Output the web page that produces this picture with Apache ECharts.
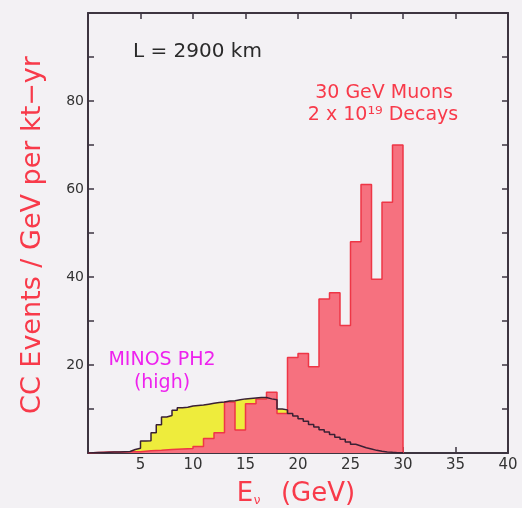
<!DOCTYPE html>
<html><head><meta charset="utf-8">
<script src="https://cdn.jsdelivr.net/npm/echarts@6/dist/echarts.min.js"></script>
<style>html,body{margin:0;padding:0;background:#f3f1f4;}#c{width:522px;height:508px;}</style>
</head><body><div id="c"></div>
<script>
// ---- data ----
const muonBinStart = 0;
const muonBinWidth = 1; // GeV
const muonValues = [0.1, 0.2, 0.2, 0.3, 0.3, 0.5, 0.6, 0.8, 0.9, 1.0,
                    1.5, 3.3, 4.6, 11.6, 5.2, 11.2, 12.3, 13.8, 9.0, 21.7,
                    22.6, 19.6, 35.0, 36.4, 29.0, 48.0, 61.0, 39.5, 57.0, 70.0];
const minosBinStart = 0;
const minosBinWidth = 0.5; // GeV
const minosValues = [0.05, 0.1, 0.1, 0.15, 0.2, 0.2, 0.3, 0.35, 0.8, 1.1,
                     2.7, 2.8, 4.6, 6.4, 8.2, 8.5, 9.7, 10.3, 10.4, 10.7,
                     10.8, 10.9, 11.1, 11.3, 11.5, 11.6, 11.8, 11.9, 12.1, 12.3,
                     12.4, 12.5, 12.6, 12.6, 12.3, 12.1, 10.0, 9.8, 9.0, 8.4,
                     7.8, 7.2, 6.5, 5.9, 5.3, 4.8, 4.2, 3.6, 3.1, 2.5,
                     2.0, 1.6, 1.2, 0.9, 0.6, 0.4, 0.25, 0.15, 0.08, 0.03];
const xTickLabels = [5, 10, 15, 20, 25, 30, 35, 40];
const yTickLabels = [20, 40, 60, 80];

function histPoints(start, width, vals) {
  const pts = [[start, 0]];
  vals.forEach((v, i) => pts.push([start + i * width, v]));
  pts.push([start + vals.length * width, 0]);
  return pts;
}

const FONT = '"DejaVu Sans", sans-serif';
const frameColor = '#3d3540';
const redText = '#f83a4a';
const magenta = '#ee22ee';

function axisCommon(extra) {
  return Object.assign({
    type: 'value',
    axisLine: { show: true, onZero: false, lineStyle: { color: frameColor, width: 2 } },
    axisTick: { show: true, inside: true, length: 6, lineStyle: { color: frameColor, width: 1.5 } },
    splitLine: { show: false }
  }, extra);
}

const chart = echarts.init(document.getElementById('c'), null, { renderer: 'canvas' });
chart.setOption({
  backgroundColor: '#f3f1f4',
  animation: false,
  grid: { left: 88, right: 14, top: 13, bottom: 55, containLabel: false },
  xAxis: [
    axisCommon({ min: 0, max: 40, interval: 5, position: 'bottom',
      axisLabel: { color: '#333', fontSize: 15, fontFamily: FONT, margin: 5,
        formatter: v => xTickLabels.includes(v) ? String(v) : '' } }),
    axisCommon({ min: 0, max: 40, interval: 5, position: 'top', axisLabel: { show: false } })
  ],
  yAxis: [
    axisCommon({ min: 0, max: 100, interval: 10, position: 'left',
      axisLabel: { color: '#333', fontSize: 14, fontFamily: FONT, margin: 4,
        formatter: v => yTickLabels.includes(v) ? String(v) : '' } }),
    axisCommon({ min: 0, max: 100, interval: 10, position: 'right', axisLabel: { show: false } })
  ],
  series: [
    { name: 'MINOS fill', type: 'line', step: 'end', showSymbol: false, z: 1,
      data: histPoints(minosBinStart, minosBinWidth, minosValues),
      lineStyle: { width: 0, opacity: 0 },
      areaStyle: { color: '#eeec3c', opacity: 1 } },
    { name: 'Muons', type: 'line', step: 'end', showSymbol: false, z: 2,
      data: histPoints(muonBinStart, muonBinWidth, muonValues),
      lineStyle: { color: '#ee3646', width: 1.5 },
      areaStyle: { color: '#f6717f', opacity: 1 } },
    { name: 'MINOS outline', type: 'line', step: 'end', showSymbol: false, z: 3,
      data: histPoints(minosBinStart, minosBinWidth, minosValues),
      lineStyle: { color: '#3a2034', width: 1.5 } }
  ],
  graphic: [
    { type: 'text', x: 133, y: 52, style: { text: 'L = 2900 km', font: '20px ' + FONT, fill: '#2a2a2a', align: 'left', verticalAlign: 'middle' } },
    { type: 'text', x: 384, y: 93, style: { text: '30 GeV Muons', font: '19px ' + FONT, fill: redText, align: 'center', verticalAlign: 'middle' } },
    { type: 'text', x: 383, y: 115, style: { text: '2 x 10¹⁹ Decays', font: '19px ' + FONT, fill: redText, align: 'center', verticalAlign: 'middle' } },
    { type: 'text', x: 162, y: 360, style: { text: 'MINOS PH2', font: '19px ' + FONT, fill: magenta, align: 'center', verticalAlign: 'middle' } },
    { type: 'text', x: 162, y: 383, style: { text: '(high)', font: '19px ' + FONT, fill: magenta, align: 'center', verticalAlign: 'middle' } },
    { type: 'text', x: 33, y: 235, rotation: Math.PI / 2, style: { text: 'CC Events / GeV per kt\u2212yr', font: '27px ' + FONT, fill: redText, align: 'center', verticalAlign: 'middle' } },
    { type: 'text', x: 245, y: 494, style: { text: 'E', font: '26px ' + FONT, fill: redText, align: 'center', verticalAlign: 'middle' } },
    { type: 'text', x: 257, y: 501, style: { text: 'ν', font: '12px ' + FONT, fill: redText, align: 'center', verticalAlign: 'middle' } },
    { type: 'text', x: 318, y: 494, style: { text: '(GeV)', font: '26px ' + FONT, fill: redText, align: 'center', verticalAlign: 'middle' } }
  ]
});
</script>
</body></html>
